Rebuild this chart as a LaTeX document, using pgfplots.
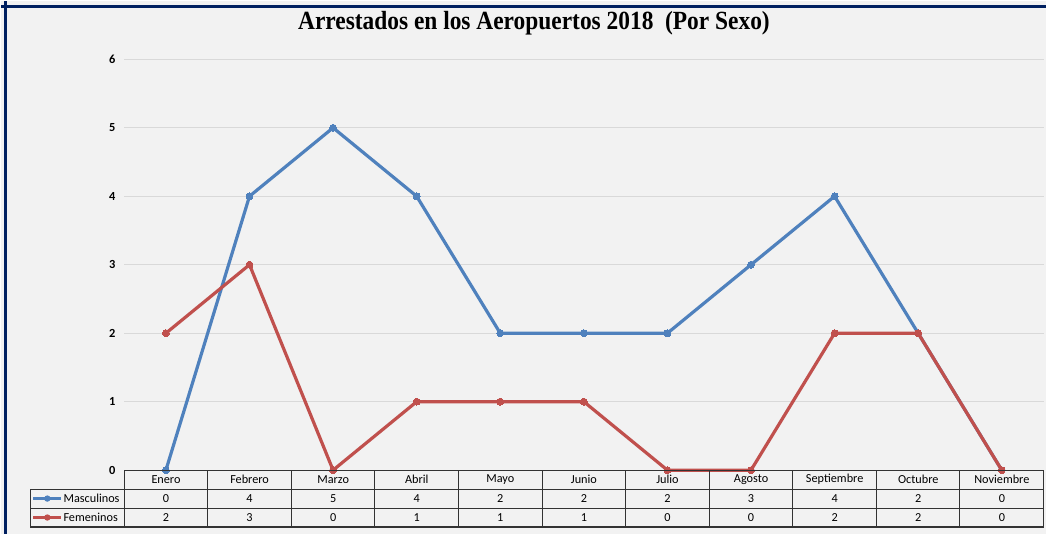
\documentclass[border=0pt]{standalone}
\usepackage{fontspec}
\setmainfont{Carlito}
\newfontfamily\titlefont{Liberation Serif}
\usepackage{pgfplots}
\pgfplotsset{compat=1.18}
\definecolor{bgc}{HTML}{F2F2F2}
\definecolor{navy}{HTML}{002060}
\definecolor{masc}{HTML}{4F81BD}
\definecolor{fem}{HTML}{C0504D}
\definecolor{gridc}{HTML}{D9D9D9}
\begin{document}
\begin{tikzpicture}[x=0.75pt,y=0.75pt]
% background (image is 1047 x 534 px)
\fill[bgc] (0,0) rectangle (1047,534);
\draw[navy,line width=2.2pt] (0,529) -- (1047,529);
\draw[navy,line width=2.2pt] (4.5,0) -- (4.5,534);
\node[font=\titlefont\bfseries\fontsize{17.6}{20}\selectfont] at (534,512) {\scalebox{1}[1.12]{Arrestados en los Aeropuertos 2018 \ (Por Sexo)}};
\begin{axis}[
  at={(92.25pt,48pt)}, anchor=south west,
  scale only axis, width=691.5pt, height=309pt,
  xmin=-0.5, xmax=10.5, ymin=0, ymax=6,
  axis line style={draw=none},
  xtick=\empty,
  ytick={0,1,2,3,4,5,6},
  major tick length=0pt,
  ymajorgrids, grid style={gridc, line width=0.75pt},
  /pgf/number format/assume math mode=true,
  yticklabel style={font=\bfseries\fontsize{9.3}{10}\selectfont, anchor=east, xshift=-3pt},
  clip=false,
]
\addplot[masc, line width=2.4pt, mark=*, mark size=2.6pt, mark options={fill=masc, draw=masc, line width=0pt}]
 coordinates {(0,0) (1,4) (2,5) (3,4) (4,2) (5,2) (6,2) (7,3) (8,4) (9,2) (10,0)};
\addplot[fem, line width=2.4pt, mark=*, mark size=2.6pt, mark options={fill=fem, draw=fem, line width=0pt}]
 coordinates {(0,2) (1,3) (2,0) (3,1) (4,1) (5,1) (6,0) (7,0) (8,2) (9,2) (10,0)};
\end{axis}
% data table
\begin{scope}[line width=0.8pt, draw=black!80]
\draw (123,64) -- (1045,64);
\draw (29,45) -- (1045,45);
\draw (29,26) -- (1045,26);
\draw (29,7) -- (1045,7);
\draw (29,45) -- (29,7);
\foreach \k in {0,...,11} {
  \draw ({123+83.818*\k},64) -- ({123+83.818*\k},7);
}
\end{scope}
\foreach \m [count=\i from 0] in {Enero,Febrero,Marzo,Abril,Mayo,Junio,Julio,Agosto,Septiembre,Octubre,Noviembre} {
  \node[font=\fontsize{9.2}{10}\selectfont] at ({165+83.818*\i},54.5) {\m};
}
\foreach \v [count=\i from 0] in {0,4,5,4,2,2,2,3,4,2,0} {
  \node[font=\fontsize{9.2}{10}\selectfont] at ({165+83.818*\i},35.5) {\v};
}
\foreach \v [count=\i from 0] in {2,3,0,1,1,1,0,0,2,2,0} {
  \node[font=\fontsize{9.2}{10}\selectfont] at ({165+83.818*\i},16.5) {\v};
}
% legend keys
\draw[masc, line width=2.2pt] (32,35.5) -- (60,35.5);
\fill[masc] (46,35.5) circle (3.2);
\node[anchor=west, inner sep=0pt, font=\fontsize{9.2}{10}\selectfont] at (62,35.5) {Masculinos};
\draw[fem, line width=2.2pt] (32,16.5) -- (60,16.5);
\fill[fem] (46,16.5) circle (3.2);
\node[anchor=west, inner sep=0pt, font=\fontsize{9.2}{10}\selectfont] at (62,16.5) {Femeninos};
\end{tikzpicture}
\end{document}
